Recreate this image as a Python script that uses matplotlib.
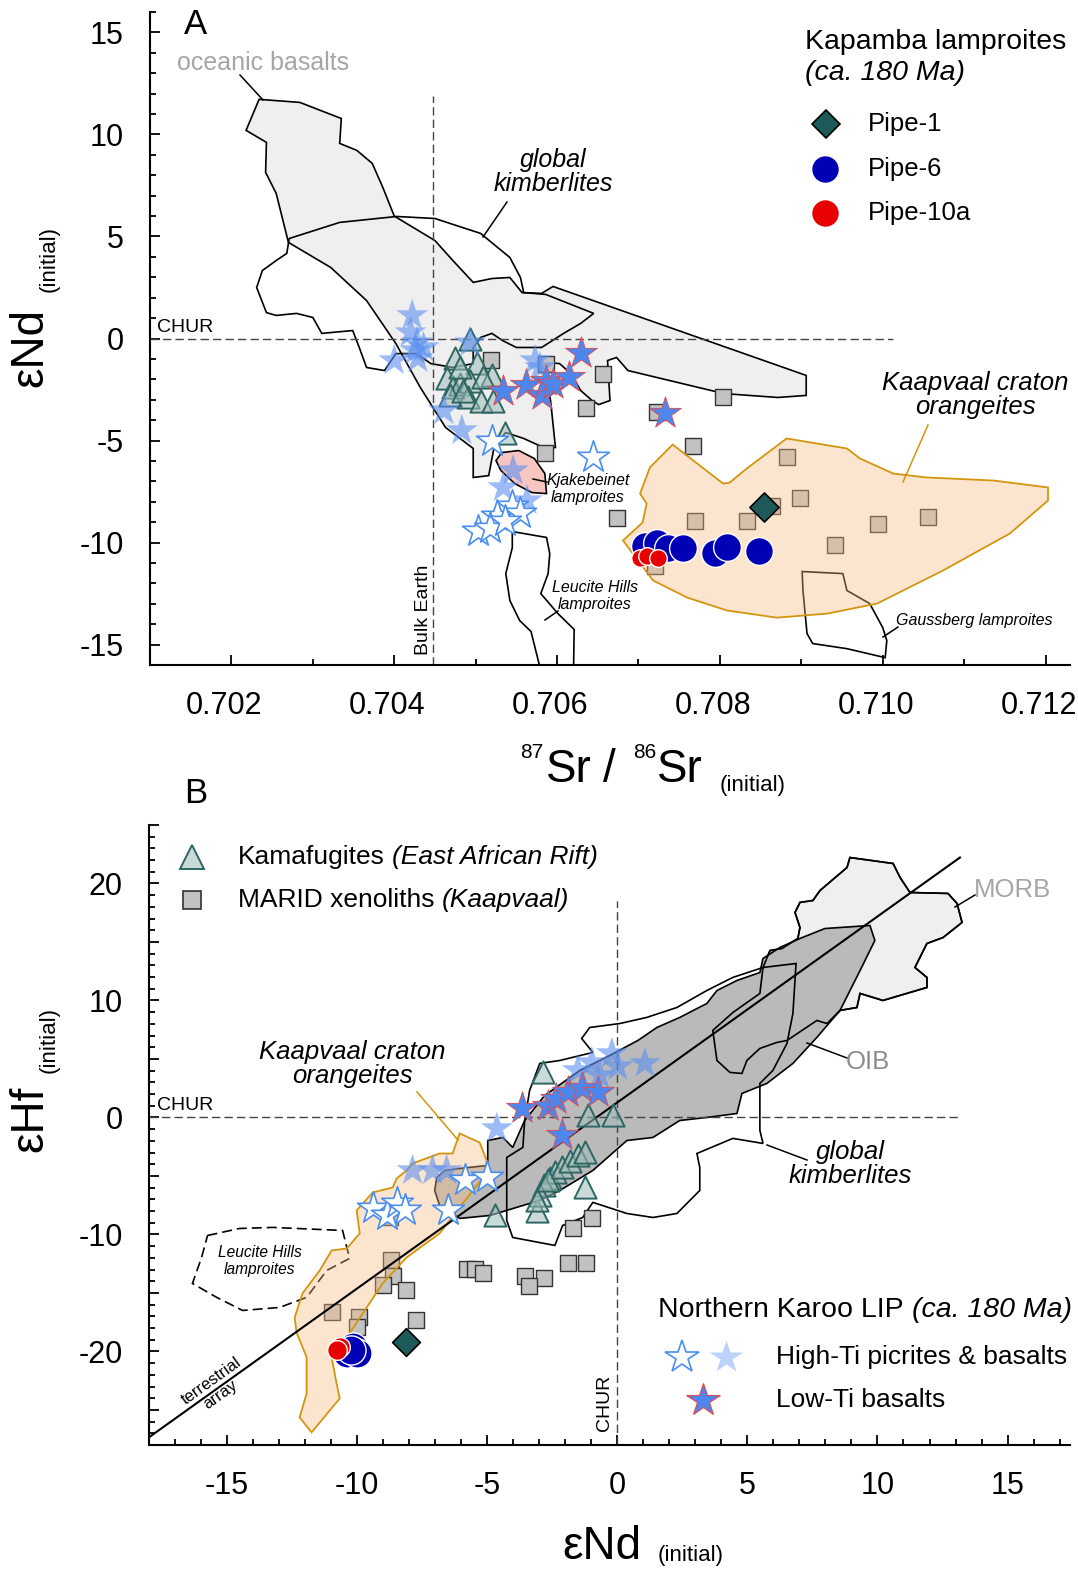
import matplotlib.pyplot as plt
from matplotlib.colors import to_rgba
from matplotlib.lines import Line2D
from matplotlib.patches import Polygon
from matplotlib.ticker import FuncFormatter, MultipleLocator
from matplotlib.transforms import ScaledTranslation

plt.rcParams.update({
    "font.family": "Liberation Sans",
    "axes.unicode_minus": False,
})

W, H = 1078, 1572

# ---------------- panel A : 87Sr/86Sr(i) vs eNd(i) ----------------
a_hiti_fill_sr = [0.70422, 0.70420, 0.70428, 0.70429, 0.70400, 0.70436, 0.70426, 0.70493,
                  0.70573, 0.70579, 0.70461, 0.70483, 0.70546, 0.70534, 0.70563]
a_hiti_fill_nd = [1.13, 0.29, -0.20, -0.98, -1.08, -0.44, -0.59, -0.20,
                  -1.08, -1.42, -3.53, -4.51, -6.47, -7.30, -7.94]
a_hiti_open_sr = [0.70520, 0.70644, 0.70545, 0.70526, 0.70555, 0.70503, 0.70518, 0.70536]
a_hiti_open_nd = [-5.00, -5.83, -8.19, -8.68, -8.53, -9.41, -9.31, -8.92]
a_loti_sr = [0.70534, 0.70562, 0.70582, 0.70587, 0.70595, 0.70615, 0.70629, 0.70733]
a_loti_nd = [-2.55, -2.30, -2.79, -2.06, -2.21, -1.91, -0.69, -3.63]
a_kama_sr = [0.70493, 0.70475, 0.70502, 0.70465, 0.70472, 0.70481, 0.70493, 0.70520,
             0.70490, 0.70506, 0.70521, 0.70469, 0.70485, 0.70536, 0.70481, 0.70509]
a_kama_nd = [0.0, -0.98, -1.18, -1.96, -2.40, -2.21, -2.06, -1.81,
             -2.89, -3.04, -3.04, -2.79, -2.55, -4.61, -1.42, -1.91]
a_marid_sr = [0.70519, 0.70587, 0.70656, 0.70636, 0.70723, 0.70804, 0.70767, 0.70585, 0.70674,
              0.70769, 0.70833, 0.70864, 0.70883, 0.70898, 0.70941, 0.70994, 0.71055, 0.70720]
a_marid_nd = [-1.03, -1.23, -1.72, -3.43, -3.58, -2.89, -5.25, -5.59, -8.82,
              -8.92, -8.92, -8.19, -5.83, -7.84, -10.10, -9.07, -8.73, -11.13]
a_pipe1_sr, a_pipe1_nd = [0.70854], [-8.24]
a_pipe6_sr = [0.70708, 0.70723, 0.70736, 0.70755, 0.70794, 0.70809, 0.70848]
a_pipe6_nd = [-10.15, -10.00, -10.29, -10.25, -10.49, -10.20, -10.39]
a_pipe10_sr = [0.70702, 0.70710, 0.70724]
a_pipe10_nd = [-10.78, -10.64, -10.78]

a_oceanic = [(0.70234, 11.72), (0.70284, 11.57), (0.70335, 10.78), (0.70333, 9.56), (0.70354, 9.22),
             (0.70373, 8.58), (0.70386, 7.40), (0.70400, 6.00), (0.70450, 4.80), (0.70472, 3.82),
             (0.70497, 2.75), (0.70520, 2.94), (0.70542, 2.99), (0.70557, 2.25), (0.70581, 2.21),
             (0.70595, 2.55), (0.70906, -1.81), (0.70906, -2.79), (0.70871, -2.89), (0.70805, -2.70),
             (0.70687, -1.57), (0.70673, -0.93), (0.70662, -1.08), (0.70665, -3.04), (0.70651, -3.24),
             (0.70643, -3.04), (0.70629, -2.55), (0.70617, -1.72), (0.70603, -1.23), (0.70590, -1.18),
             (0.70586, -1.91), (0.70592, -3.04), (0.70598, -5.34), (0.70586, -5.39), (0.70559, -4.90),
             (0.70537, -4.61), (0.70523, -5.25), (0.70516, -6.72), (0.70497, -6.81), (0.70497, -5.39),
             (0.70463, -4.36), (0.70432, -2.40), (0.70402, -0.25), (0.70366, 1.86), (0.70322, 3.48),
             (0.70270, 4.71), (0.70255, 7.11), (0.70242, 8.14), (0.70243, 9.61), (0.70218, 10.20)]
a_kimberlite = [(0.70271, 4.90), (0.70333, 5.69), (0.70403, 5.98), (0.70450, 5.88), (0.70506, 5.15),
                (0.70542, 3.97), (0.70555, 2.99), (0.70559, 2.25), (0.70586, 2.16), (0.70645, 1.23),
                (0.70629, 0.74), (0.70608, 0.25), (0.70581, -0.44), (0.70550, -0.44), (0.70533, -0.10),
                (0.70520, 0.25), (0.70506, 0.05), (0.70497, -0.44), (0.70497, -1.23), (0.70472, -1.42),
                (0.70445, -1.23), (0.70427, -0.74), (0.70402, -0.74), (0.70388, -1.57), (0.70366, -1.42),
                (0.70357, -0.44), (0.70349, 0.39), (0.70311, 0.25), (0.70300, 1.03), (0.70280, 1.23),
                (0.70255, 1.13), (0.70243, 1.27), (0.70231, 2.50), (0.70238, 3.33), (0.70255, 3.82),
                (0.70268, 4.17)]
a_kjakebeinet = [(0.70532, -5.59), (0.70553, -5.49), (0.70572, -5.88), (0.70585, -6.62), (0.70587, -7.60),
                 (0.70569, -7.55), (0.70548, -7.11), (0.70531, -6.47), (0.70525, -5.98)]
a_leucite = [(0.70545, -9.46), (0.70587, -9.75), (0.70591, -10.54), (0.70589, -11.52), (0.70580, -12.50),
             (0.70601, -13.48), (0.70621, -14.26), (0.70620, -16.76), (0.70583, -16.76), (0.70568, -14.36),
             (0.70554, -13.82), (0.70542, -12.84), (0.70537, -11.52), (0.70545, -10.25)]
a_gaussberg = [(0.70901, -11.42), (0.70951, -11.52), (0.70956, -12.35), (0.70984, -12.99), (0.71000, -14.17),
               (0.71005, -14.80), (0.71003, -15.64), (0.70956, -15.20), (0.70914, -14.95), (0.70907, -14.46),
               (0.70902, -12.35)]
a_orangeite = [(0.70742, -5.20), (0.70804, -7.11), (0.70812, -7.06), (0.70833, -6.37), (0.70882, -4.90),
               (0.70956, -5.39), (0.70972, -5.88), (0.71013, -6.62), (0.71054, -6.81), (0.71136, -6.96),
               (0.71203, -7.30), (0.71203, -7.94), (0.71156, -9.56), (0.71074, -11.37), (0.70993, -12.99),
               (0.70932, -13.48), (0.70870, -13.68), (0.70809, -13.33), (0.70760, -12.70), (0.70718, -11.86),
               (0.70681, -9.90), (0.70705, -9.02), (0.70710, -8.09), (0.70702, -7.60), (0.70714, -6.32)]
a_bulk_earth = 0.70448
a_bulk_earth_top = 11.9
a_chur_right = 0.71013

# ---------------- panel B : eNd(i) vs eHf(i) ----------------
b_hiti_fill_nd = [-4.63, -1.52, -0.98, -0.21, 0.02, 1.06, -0.67, -7.87, -7.10, -6.56]
b_hiti_fill_hf = [-0.94, 4.02, 4.70, 5.47, 4.36, 4.62, 3.59, -4.53, -4.53, -4.53]
b_hiti_open_nd = [-9.40, -8.87, -8.48, -8.17, -6.52, -5.87, -5.02]
b_hiti_open_hf = [-7.78, -8.38, -7.35, -7.95, -7.95, -5.38, -5.13]
b_loti_nd = [-3.67, -2.67, -2.37, -1.90, -1.37, -0.75, -2.13]
b_loti_hf = [0.77, 0.94, 1.62, 2.14, 2.48, 2.14, -1.54]
b_kama_nd = [-2.87, -1.13, -0.17, -4.71, -3.10, -1.25, -2.60, -2.40, -2.13, -1.83, -1.52, -1.25,
             -2.83, -2.98, -3.10, -2.67]
b_kama_hf = [3.85, 0.17, 0.17, -8.38, -8.03, -5.98, -5.21, -4.70, -4.27, -3.68, -3.25, -2.99,
             -5.81, -6.67, -7.09, -5.38]
b_marid_nd = [-0.98, -1.71, -1.90, -1.21, -3.56, -2.83, -3.40, -5.79, -5.48, -5.17, -8.71, -8.63,
              -9.02, -8.13, -10.98, -9.94, -10.02, -7.75, -8.75]
b_marid_hf = [-8.63, -9.49, -12.48, -12.48, -13.59, -13.76, -14.44, -12.99, -12.99, -13.33, -12.22,
              -13.59, -14.36, -14.79, -16.67, -17.09, -17.95, -17.35, -8.55]
b_pipe1_nd, b_pipe1_hf = [-8.13], [-19.23]
b_pipe6_nd = [-10.17, -10.40, -10.02, -10.25]
b_pipe6_hf = [-19.66, -20.17, -20.17, -19.91]
b_pipe10_nd = [-10.67, -10.79]
b_pipe10_hf = [-19.66, -19.91]

b_morb = [(8.94, 22.22), (10.60, 21.71), (10.87, 20.51), (11.25, 19.23), (12.71, 19.15), (13.06, 18.29),
          (13.25, 16.67), (12.52, 15.38), (11.90, 14.87), (11.44, 12.82), (11.90, 11.97), (11.90, 11.11),
          (10.21, 10.00), (9.33, 10.60), (9.21, 9.40), (8.56, 9.15), (8.06, 8.03), (7.67, 8.29),
          (6.52, 6.58), (6.13, 6.41), (5.48, 5.90), (4.98, 4.87), (4.79, 3.76), (4.33, 3.85),
          (3.83, 4.87), (3.67, 7.44), (4.44, 8.97), (5.48, 10.60), (5.60, 12.82), (5.87, 14.27),
          (6.33, 14.44), (6.94, 15.30), (7.02, 16.24), (6.83, 17.52), (7.02, 18.38), (7.52, 18.55),
          (7.79, 19.40), (8.83, 21.37)]
b_oib = [(-6.94, -5.13), (-6.63, -4.53), (-6.06, -4.36), (-4.98, -4.10), (-4.98, -1.97), (-4.40, -1.71),
         (-4.02, -2.56), (-3.56, -0.26), (-2.79, 1.88), (-1.44, 4.02), (-0.29, 5.30), (0.79, 6.58),
         (1.52, 7.69), (2.40, 8.55), (3.44, 9.74), (3.83, 10.85), (4.60, 11.71), (5.48, 12.39),
         (5.60, 13.59), (6.25, 14.53), (7.02, 15.30), (7.98, 16.15), (9.71, 16.41), (9.90, 15.13),
         (9.33, 12.56), (8.56, 9.15), (7.67, 6.84), (6.75, 4.62), (5.75, 2.91), (4.79, 2.05),
         (4.60, 0.34), (3.44, 0.00), (2.40, -0.26), (1.37, -1.71), (0.37, -1.97), (-0.94, -4.53),
         (-2.21, -6.24), (-2.98, -7.09), (-4.90, -8.38), (-6.06, -8.63), (-6.83, -7.52), (-7.02, -6.24)]
b_kimberlite = [(-2.98, 4.62), (-2.21, 4.87), (-0.94, 5.56), (-1.37, 6.75), (-1.06, 7.69), (0.10, 8.03),
                (1.13, 8.55), (2.29, 9.40), (3.44, 10.85), (4.44, 11.97), (5.60, 12.82), (6.87, 13.16),
                (6.75, 8.89), (6.52, 6.32), (5.98, 4.02), (5.48, 2.91), (5.48, -1.11), (5.60, -2.22),
                (4.44, -1.79), (3.06, -3.08), (3.17, -4.27), (3.17, -6.24), (2.29, -8.21), (1.37, -8.55),
                (0.37, -8.21), (-0.94, -7.26), (-1.33, -8.55), (-2.10, -9.23), (-2.40, -10.94),
                (-4.02, -10.26), (-4.25, -8.80), (-4.25, -3.42), (-3.63, -2.56), (-3.56, -0.26),
                (-3.37, 2.31)]
b_orangeite = [(-6.06, -1.37), (-5.29, -2.14), (-5.02, -3.68), (-5.10, -4.96), (-5.94, -7.35),
               (-6.83, -9.91), (-8.10, -11.97), (-9.02, -14.19), (-9.63, -16.24), (-10.40, -18.80),
               (-10.98, -20.51), (-10.79, -22.74), (-10.67, -24.02), (-11.75, -26.92), (-12.21, -25.64),
               (-11.94, -23.59), (-11.94, -20.51), (-12.33, -18.38), (-12.40, -17.09), (-12.10, -15.04),
               (-11.44, -13.08), (-10.98, -11.37), (-10.40, -11.20), (-9.90, -9.91), (-10.02, -7.95),
               (-9.40, -6.41), (-8.63, -5.98), (-8.48, -5.21), (-8.10, -4.53), (-7.87, -3.93),
               (-6.83, -3.08), (-6.33, -3.08)]
b_leucite = [(-15.75, -10.09), (-14.52, -9.49), (-13.25, -9.40), (-10.56, -9.66), (-10.29, -12.05),
             (-11.17, -13.08), (-11.94, -15.38), (-12.98, -16.24), (-14.40, -16.50), (-15.40, -15.38),
             (-16.33, -14.19), (-15.98, -11.97)]
# terrestrial array (eHf = 1.59 eNd + 1.28)
b_array_slope, b_array_icpt = 1.59, 1.28
b_array_nd = [-18.02, 13.17]
b_chur_right = 13.17
b_chur_top = 18.5

# ---------------- styles ----------------
C_HITI = to_rgba("#5c90f2", 0.6)
C_HITI_EDGE = "#4a8ef0"
C_LOTI = "#4f86ec"
C_LOTI_EDGE = "#e04848"
C_KAMA = to_rgba("#9fbdb9", 0.55)
C_KAMA_EDGE = "#2e6663"
C_MARID = "#c2c2c2"
C_PIPE1 = "#1e5a5a"
C_PIPE6 = "#0000b4"
C_PIPE10 = "#e80000"
C_ORANGE_FILL = to_rgba("#f7bd82", 0.38)
C_ORANGE_EDGE = "#d4950e"

fig = plt.figure(figsize=(W / 100, H / 100), dpi=100)
axA = fig.add_axes([150 / W, 1 - 665 / H, 920 / W, 653 / H])
axB = fig.add_axes([149 / W, 1 - 1445 / H, 921 / W, 620 / H])


def field(ax, pts, face="none", edge="black", lw=1.2, ls="-", z=1):
    ax.add_patch(Polygon(pts, closed=True, facecolor=face, edgecolor=edge,
                         lw=lw, ls=ls, zorder=z))


def points(ax, x, y, marker, size, face, edge, lw=1.0, z=5):
    ax.scatter(x, y, s=size, marker=marker, facecolors=face, edgecolors=edge,
               linewidths=lw, zorder=z)


def ftext(x, y, s, **kw):
    ha = kw.pop("ha", "center")
    va = kw.pop("va", "center")
    return fig.text(x / W, 1 - y / H, s, ha=ha, va=va, **kw)


def leader(x1, y1, x2, y2, color="black"):
    fig.add_artist(Line2D([x1 / W, x2 / W], [1 - y1 / H, 1 - y2 / H],
                          color=color, lw=1.1))


def key(x, y, **kw):
    fig.add_artist(Line2D([x / W], [1 - y / H], ls="none", **kw))


def run(x, y, parts, size):
    r = fig.canvas.get_renderer()
    for s, style in parts:
        t = ftext(x, y, s, ha="left", fontsize=size, style=style)
        x += t.get_window_extent(r).width + 0.28 * size * 100 / 72


# ---------------- panel A ----------------
field(axA, a_oceanic, face="#efefef", z=1)
field(axA, a_kimberlite, z=2)
field(axA, a_kjakebeinet, face="#f8c6c0", z=2)
field(axA, a_leucite, z=2)
field(axA, a_gaussberg, z=2)
field(axA, a_orangeite, face=C_ORANGE_FILL, edge="none", z=4)
field(axA, a_orangeite, edge=C_ORANGE_EDGE, lw=1.3, z=4)

axA.plot([0.701, a_chur_right], [0, 0], color="#444444", lw=1, dashes=(6, 3), zorder=2.5)
axA.plot([a_bulk_earth, a_bulk_earth], [-16, a_bulk_earth_top], color="#444444", lw=1,
         dashes=(6, 3), zorder=2.5)

points(axA, a_marid_sr, a_marid_nd, "s", 130, C_MARID, "#333333", 1.0, z=3)
points(axA, a_kama_sr, a_kama_nd, "^", 256, C_KAMA, C_KAMA_EDGE, 1.4, z=5)
points(axA, a_hiti_fill_sr, a_hiti_fill_nd, "*", 580, C_HITI, "none", 0, z=6)
points(axA, a_hiti_open_sr, a_hiti_open_nd, "*", 580, "white", C_HITI_EDGE, 1.2, z=6)
points(axA, a_loti_sr, a_loti_nd, "*", 580, C_LOTI, C_LOTI_EDGE, 0.6, z=6)
points(axA, a_pipe6_sr, a_pipe6_nd, "o", 400, C_PIPE6, "white", 1.0, z=7)
points(axA, a_pipe10_sr, a_pipe10_nd, "o", 160, C_PIPE10, "white", 1.0, z=7)
points(axA, a_pipe1_sr, a_pipe1_nd, "D", 220, C_PIPE1, "black", 1.2, z=7)

axA.set_xlim(0.701, 0.7123)
axA.set_ylim(-16, 16)
axA.xaxis.set_major_locator(MultipleLocator(0.002))
axA.xaxis.set_minor_locator(MultipleLocator(0.001))
axA.xaxis.set_major_formatter(FuncFormatter(lambda v, p: f"{v:.3f}"))
axA.yaxis.set_major_locator(MultipleLocator(5))
axA.yaxis.set_minor_locator(MultipleLocator(1))
axA.yaxis.set_major_formatter(FuncFormatter(lambda v, p: f"{v:.0f}"))

# ---------------- panel B ----------------
field(axB, b_morb, face="#efefef", z=1)
field(axB, b_oib, face="#bababa", z=1.5)
field(axB, b_morb, z=2)
field(axB, b_kimberlite, z=2)
field(axB, b_leucite, ls=(0, (6, 3)), z=2)
field(axB, b_orangeite, face=C_ORANGE_FILL, edge="none", z=4)
field(axB, b_orangeite, edge=C_ORANGE_EDGE, lw=1.3, z=4)

axB.plot(b_array_nd, [b_array_slope * v + b_array_icpt for v in b_array_nd],
         color="black", lw=1.5, zorder=4.5)
axB.plot([-18, b_chur_right], [0, 0], color="#444444", lw=1, dashes=(6, 3), zorder=2.5)
axB.plot([0, 0], [-28, b_chur_top], color="#444444", lw=1, dashes=(6, 3), zorder=2.5)

points(axB, b_marid_nd, b_marid_hf, "s", 144, C_MARID, "#333333", 1.0, z=3)
points(axB, b_kama_nd, b_kama_hf, "^", 256, C_KAMA, C_KAMA_EDGE, 1.4, z=5)
points(axB, b_hiti_fill_nd, b_hiti_fill_hf, "*", 580, C_HITI, "none", 0, z=6)
points(axB, b_hiti_open_nd, b_hiti_open_hf, "*", 580, "white", C_HITI_EDGE, 1.2, z=6)
points(axB, b_loti_nd, b_loti_hf, "*", 580, C_LOTI, C_LOTI_EDGE, 0.6, z=6)
points(axB, b_pipe6_nd, b_pipe6_hf, "o", 440, C_PIPE6, "white", 1.0, z=7)
points(axB, b_pipe10_nd, b_pipe10_hf, "o", 200, C_PIPE10, "white", 1.0, z=7)
points(axB, b_pipe1_nd, b_pipe1_hf, "D", 200, C_PIPE1, "black", 1.2, z=7)

axB.set_xlim(-18, 17.4)
axB.set_ylim(-28, 25)
axB.xaxis.set_major_locator(MultipleLocator(5))
axB.xaxis.set_minor_locator(MultipleLocator(1))
axB.xaxis.set_major_formatter(FuncFormatter(lambda v, p: f"{v:.0f}"))
axB.yaxis.set_major_locator(MultipleLocator(5))
axB.yaxis.set_minor_locator(MultipleLocator(1))
axB.yaxis.set_major_formatter(
    FuncFormatter(lambda v, p: f"{v:.0f}" if round(v) % 10 == 0 else ""))

for ax in (axA, axB):
    for s in ("top", "right"):
        ax.spines[s].set_visible(False)
    for s in ("left", "bottom"):
        ax.spines[s].set_linewidth(1.5)
    ax.tick_params(which="both", direction="in", width=1.3, labelsize=22)
    ax.tick_params(which="major", length=7)
    ax.tick_params(which="minor", length=4)
    ax.tick_params(axis="y", pad=19)
axA.tick_params(axis="x", pad=19)
axB.tick_params(axis="x", pad=19)

# panel A x tick labels sit a little left of their ticks in the original
shift = ScaledTranslation(-7 / 100, 0, fig.dpi_scale_trans)
for t in axA.xaxis.get_major_ticks():
    t.label1.set_transform(t.label1.get_transform() + shift)

# ---------------- axis titles ----------------
ftext(30, 347, "\u03b5Nd", fontsize=33, rotation=90)
ftext(49, 259, "(initial)", fontsize=16, rotation=90)
ftext(532, 758, "87", fontsize=15, va="baseline")
ftext(569, 782, "Sr", fontsize=33, va="baseline")
ftext(609, 782, "/", fontsize=33, va="baseline")
ftext(645, 758, "86", fontsize=15, va="baseline")
ftext(680, 782, "Sr", fontsize=33, va="baseline")
ftext(753, 791, "(initial)", fontsize=16, va="baseline")

ftext(30, 1119, "\u03b5Hf", fontsize=33, rotation=90)
ftext(49, 1040, "(initial)", fontsize=16, rotation=90)
ftext(602, 1559, "\u03b5Nd", fontsize=33, va="baseline")
ftext(691, 1561, "(initial)", fontsize=16, va="baseline")

ftext(195, 25, "A", fontsize=25)
ftext(196, 793, "B", fontsize=25)

# ---------------- panel A annotations ----------------
ftext(177, 63, "oceanic basalts", ha="left", fontsize=18, color="#a6a6a6")
leader(240, 75, 263, 100)
ftext(553, 172, "global\nkimberlites", fontsize=18, style="italic", linespacing=1.05)
leader(507, 202, 483, 237)
ftext(975, 395, "Kaapvaal craton\norangeites", fontsize=18.5, style="italic", linespacing=1.05)
leader(928, 425, 903, 482, C_ORANGE_EDGE)
ftext(588, 489, "Kjakebeinet\nlamproites", fontsize=11.5, style="italic", linespacing=1.1)
leader(547, 482, 533, 479)
ftext(595, 596, "Leucite Hills\nlamproites", fontsize=11.5, style="italic", linespacing=1.1)
leader(558, 611, 545, 620)
ftext(896, 621, "Gaussberg lamproites", ha="left", fontsize=11.5, style="italic")
leader(898, 627, 883, 637)
ftext(157, 328, "CHUR", ha="left", fontsize=14)
ftext(424, 610, "Bulk Earth", fontsize=14, rotation=90)

ftext(805, 42, "Kapamba lamproites", ha="left", fontsize=20.5)
ftext(805, 73, "(ca. 180 Ma)", ha="left", fontsize=20.5, style="italic")
key(826, 124, marker="D", ms=14.5, mfc=C_PIPE1, mec="black", mew=1.2)
key(825, 169, marker="o", ms=20, mfc=C_PIPE6, mec="white", mew=1)
key(825, 213, marker="o", ms=20, mfc=C_PIPE10, mec="white", mew=1)
ftext(868, 124, "Pipe-1", ha="left", fontsize=18.5)
ftext(868, 169, "Pipe-6", ha="left", fontsize=18.5)
ftext(868, 213, "Pipe-10a", ha="left", fontsize=18.5)

# ---------------- panel B annotations ----------------
ftext(157, 1105, "CHUR", ha="left", fontsize=14)
ftext(605, 1403, "CHUR", fontsize=14, rotation=90)
ftext(352, 1064, "Kaapvaal craton\norangeites", fontsize=18.5, style="italic", linespacing=1.05)
leader(417, 1092, 458, 1140, C_ORANGE_EDGE)
ftext(850, 1164, "global\nkimberlites", fontsize=18.5, style="italic", linespacing=1.05)
leader(767, 1145, 807, 1160)
ftext(868, 1062, "OIB", fontsize=18.5, color="#8c8c8c")
leader(807, 1043, 847, 1058)
ftext(1012, 890, "MORB", fontsize=18.5, color="#a6a6a6")
leader(955, 907, 975, 895)
ftext(260, 1261, "Leucite Hills\nlamproites", fontsize=11.2, style="italic", linespacing=1.1)
ftext(216, 1388, "terrestrial\narray", fontsize=12, rotation=35.7, linespacing=1.15)

key(192, 857, marker="^", ms=17, mfc=to_rgba("#c9dad8", 1), mec=C_KAMA_EDGE, mew=1.4)
key(192, 900, marker="s", ms=12.5, mfc=C_MARID, mec="#333333", mew=1.2)
run(238, 857, [("Kamafugites", "normal"), ("(East African Rift)", "italic")], 19)
run(238, 900, [("MARID xenoliths", "normal"), ("(Kaapvaal)", "italic")], 19)

run(658, 1310, [("Northern Karoo LIP", "normal"), ("(ca. 180 Ma)", "italic")], 20.5)
key(682, 1357, marker="*", ms=25, mfc="white", mec=C_HITI_EDGE, mew=1.2)
key(726, 1357, marker="*", ms=25, mfc=to_rgba("#5c90f2", 0.4), mec="none")
key(703, 1400, marker="*", ms=25, mfc=C_LOTI, mec=C_LOTI_EDGE, mew=0.8)
ftext(776, 1357, "High-Ti picrites & basalts", ha="left", fontsize=19)
ftext(776, 1400, "Low-Ti basalts", ha="left", fontsize=19)

fig.savefig("out.png", dpi=100)
